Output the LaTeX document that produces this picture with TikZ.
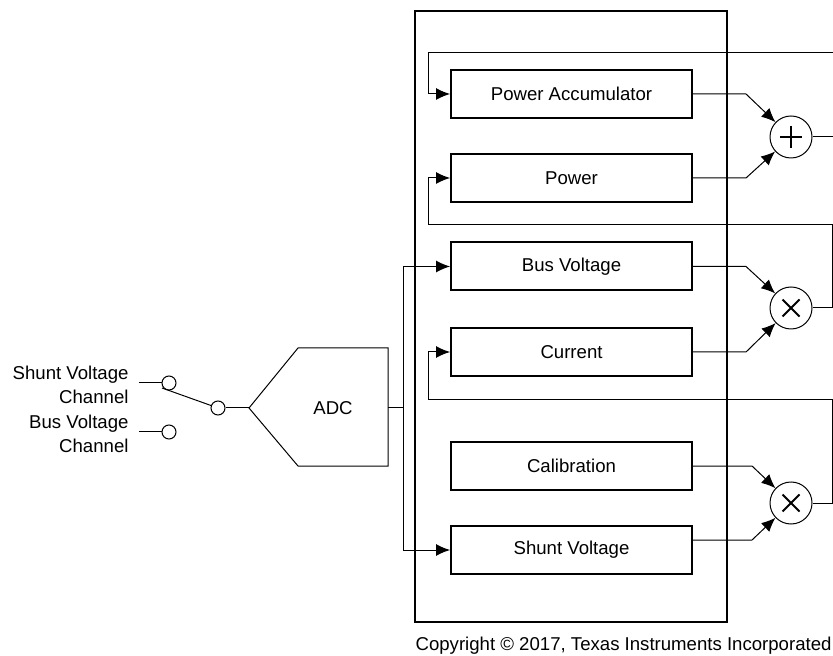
\documentclass[tikz,border=0pt]{standalone}
\usepackage{fontspec}
\setmainfont{Liberation Sans}
\usetikzlibrary{arrows.meta}

\begin{document}
\begin{tikzpicture}[x=0.5pt,y=-0.5pt,>={Latex[length=7pt,width=6pt]},line width=0.5pt,font=\fontsize{9.3}{12}\selectfont,
    reg node/.style={rectangle,draw,line width=1pt,minimum width=120.5pt,minimum height=24pt},
    op node/.style={circle,draw,minimum size=21pt,inner sep=0pt},
    sum node/.style={op node,path picture={\draw[line width=1pt] (path picture bounding box.center) +(-11,0) -- +(11,0) +(0,-11) -- +(0,11);}},
    mul node/.style={op node,path picture={\draw[line width=1pt] (path picture bounding box.center) +(-8.5,-8.5) -- +(8.5,8.5) +(-8.5,8.5) -- +(8.5,-8.5);}},
    pin node/.style={circle,draw,minimum size=7pt,inner sep=0pt}]

            \useasboundingbox (0,0) rectangle (833,656);

            % device outline
            \draw[line width=1pt] (415,11) rectangle (727,622);

            \node[reg node] (1) at (571.5,94) {Power Accumulator};
            \node[reg node] (2) at (571.5,178) {Power};
            \node[reg node] (3) at (571.5,266.5) {Bus Voltage};
            \node[reg node] (4) at (571.5,352) {Current};
            \node[reg node] (5) at (571.5,466) {Calibration};
            \node[reg node] (6) at (571.5,550) {Shunt Voltage};

            \node[sum node] (7) at (791,137) {};
            \node[mul node] (8) at (791,308) {};
            \node[mul node] (9) at (791,503) {};

            \coordinate (out) at (833,137);
            \coordinate (back) at (833,53);

            % into the operators
            \draw[->] (1.east) -- ++(53,0) -- (7);
            \draw[->] (2.east) -- ++(53,0) -- (7);
            \draw[->] (3.east) -- ++(53,0) -- (8);
            \draw[->] (4.east) -- ++(53,0) -- (8);
            \draw[->] (5.east) -- ++(59,0) -- (9);
            \draw[->] ([yshift=5pt]6.east) -- ++(59,0) -- (9);

            % results fed back
            \draw (7.east) -- (out);
            \draw[->] (back) -- (428,53) |- (1);
            \draw[->] (8.east) -| (832,225) -- (428,225) |- (2);
            \draw[->] (9.east) -| (832,400) -- (428,400) |- (4);

            % converter
            \draw (249,408) -- (298,348) -- (388,348) -- (388,466) -- (298,466) -- cycle;
            \node (adc) at (333,408) {ADC};
            \coordinate (tip) at (249,408);
            \coordinate (split) at (403,408);
            \draw (388,408) -- (split);
            \draw[->] (split) |- (3);
            \draw[->] (split) |- (6);

            % input switch
            \node[pin node] (s1) at (169,383) {};
            \node[pin node] (s2) at (169,432) {};
            \node[pin node] (s0) at (218,408) {};
            \draw (139,383) -- (s1);
            \draw (139,432) -- (s2);
            \draw (162,388) -- (s0);
            \draw (s0) -- (tip);

            \node[anchor=east,align=right,inner sep=0pt] (l1) at (129,385) {Shunt Voltage\\Channel};
            \node[anchor=east,align=right,inner sep=0pt] (l2) at (129,433.5) {Bus Voltage\\Channel};

            \node[anchor=east,inner sep=0pt] (copy) at (832,646) {Copyright © 2017, Texas Instruments Incorporated};
        \end{tikzpicture}
\end{document}
